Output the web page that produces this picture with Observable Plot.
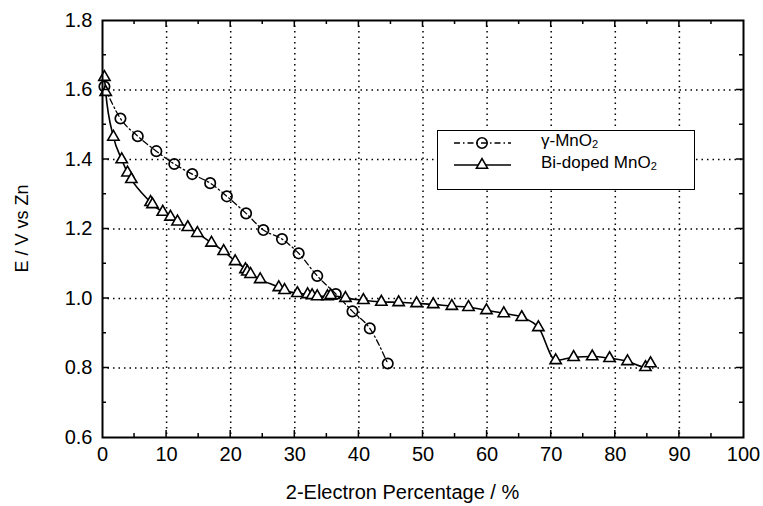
<!DOCTYPE html>
<html>
<head>
<meta charset="utf-8">
<script src="https://cdn.jsdelivr.net/npm/d3@7"></script>
<script src="https://cdn.jsdelivr.net/npm/@observablehq/plot@0.6"></script>
<style>
  html, body { margin: 0; padding: 0; background: white; }
  #chart { width: 763px; height: 506px; position: relative; }
  #legend { position: absolute; left: 437px; top: 130px; width: 256px; height: 58px;
    border: 1.8px solid black; background: white; font-family: 'Liberation Sans', Arial, sans-serif;
    font-size: 17px; color: black; }
  #legend .row { position: absolute; left: 103px; white-space: nowrap; line-height: 17px; }
  #legend sub { font-size: 11px; vertical-align: -2px; line-height: 0; }
  #legend svg { position: absolute; left: 0; top: 0; }
</style>
</head>
<body>
<div id="chart"></div>
<script>
// ---- data ----
const gammaX = [0.3, 2.8, 5.5, 8.4, 11.2, 14.0, 16.8, 19.4, 22.4, 25.1, 28.0, 30.6, 33.5, 36.4, 39.0, 41.7, 44.5];
const gammaY = [1.61, 1.518, 1.467, 1.424, 1.387, 1.358, 1.332, 1.294, 1.245, 1.197, 1.171, 1.130, 1.065, 1.013, 0.963, 0.914, 0.813];

const biX = [0.3, 0.5, 1.7, 3.0, 3.9, 4.5, 7.5, 7.8, 9.4, 10.6, 11.7, 13.3, 14.8, 17.0, 18.9, 20.7, 22.3, 22.6, 23.1, 24.6, 27.5, 28.4, 30.4, 32.0, 32.7, 33.5, 35.1, 35.6, 37.9, 40.7, 43.5, 46.2, 49.0, 51.6, 54.5, 57.1, 59.9, 62.6, 65.4, 68.0, 70.7, 73.5, 76.4, 79.1, 81.9, 84.7, 85.5];
const biY = [1.637, 1.594, 1.465, 1.400, 1.362, 1.343, 1.277, 1.271, 1.249, 1.235, 1.221, 1.205, 1.188, 1.160, 1.136, 1.107, 1.084, 1.077, 1.070, 1.055, 1.032, 1.024, 1.015, 1.012, 1.009, 1.006, 1.006, 1.009, 1.001, 0.995, 0.990, 0.989, 0.986, 0.983, 0.978, 0.975, 0.966, 0.957, 0.946, 0.917, 0.822, 0.831, 0.833, 0.828, 0.819, 0.802, 0.813];

const xTicks = [0, 10, 20, 30, 40, 50, 60, 70, 80, 90, 100];
const yTicks = [0.6, 0.8, 1.0, 1.2, 1.4, 1.6, 1.8];
const seriesNames = ["γ-MnO", "Bi-doped MnO"];
const subscript = "2";
const xLabel = "2-Electron Percentage / %";
const yLabel = "E / V vs Zn";

const gamma = gammaX.map((x, i) => ({x, y: gammaY[i]}));
const bi = biX.map((x, i) => ({x, y: biY[i]}));

const font = "'Liberation Sans', Arial, Helvetica, sans-serif";

const plot = Plot.plot({
  width: 763,
  height: 506,
  marginLeft: 102,
  marginRight: 20,
  marginTop: 20,
  marginBottom: 69,
  x: {domain: [0, 100]},
  y: {domain: [0.6, 1.8]},
  style: {fontFamily: font, background: "white", color: "black", overflow: "visible"},
  marks: [
    Plot.gridX(xTicks.slice(1, -1), {stroke: "black", strokeOpacity: 1, strokeWidth: 1.5, strokeDasharray: "1.5,4"}),
    Plot.gridY(yTicks.slice(1, -1), {stroke: "black", strokeOpacity: 1, strokeWidth: 1.5, strokeDasharray: "1.5,4"}),
    Plot.axisX(xTicks, {tickSize: 0, tickPadding: 9, fontSize: 20, label: null, tickFormat: d => String(d)}),
    Plot.axisY(yTicks, {tickSize: 0, tickPadding: 10, fontSize: 20, label: null, tickFormat: d => d.toFixed(1)}),
    Plot.line(gamma, {x: "x", y: "y", stroke: "black", strokeWidth: 1.3, strokeDasharray: "6,3,1.5,3", curve: "monotone-x"}),
    Plot.dot(gamma, {x: "x", y: "y", symbol: "circle", r: 5.2, stroke: "black", strokeWidth: 1.7, fill: "none"}),
    Plot.line(bi, {x: "x", y: "y", stroke: "black", strokeWidth: 1.6, curve: "monotone-x"}),
    Plot.dot(bi, {x: "x", y: "y", symbol: "triangle", r: 4.2, stroke: "black", strokeWidth: 1.6, fill: "white"}),
    Plot.frame({stroke: "black", strokeWidth: 2})
  ]
});

const chart = document.getElementById("chart");
chart.appendChild(plot);

// ---- decorations: inward ticks, axis titles ----
const svg = d3.select(plot);
const sx = plot.scale("x"), sy = plot.scale("y");
const X = v => sx.apply(v), Y = v => sy.apply(v);
const x0 = X(0), x1 = X(100), y0 = Y(0.6), y1 = Y(1.8);
const g = svg.append("g").attr("stroke", "black").attr("stroke-width", 1.5);
for (let v = 5; v < 100; v += 5) {
  const len = v % 10 === 0 ? 7 : 4;
  g.append("line").attr("x1", X(v)).attr("x2", X(v)).attr("y1", y0).attr("y2", y0 - len);
  g.append("line").attr("x1", X(v)).attr("x2", X(v)).attr("y1", y1).attr("y2", y1 + len);
}
for (let k = 7; k < 18; k++) {
  const v = k / 10;
  const len = k % 2 === 0 ? 7 : 4;
  g.append("line").attr("y1", Y(v)).attr("y2", Y(v)).attr("x1", x0).attr("x2", x0 + len);
  g.append("line").attr("y1", Y(v)).attr("y2", Y(v)).attr("x1", x1).attr("x2", x1 - len);
}

svg.append("text").attr("x", (x0 + x1) / 2 - 20).attr("y", 499)
  .style("text-anchor", "middle").attr("font-family", font).attr("font-size", 20).attr("fill", "black")
  .text(xLabel);
svg.append("text").attr("transform", `translate(28,${(y0 + y1) / 2}) rotate(-90)`)
  .style("text-anchor", "middle").attr("font-family", font).attr("font-size", 18).attr("fill", "black")
  .text(yLabel);

// ---- legend (HTML box over the chart) ----
const legend = d3.select(chart).append("div").attr("id", "legend");
const lsvg = legend.append("svg").attr("width", 100).attr("height", 58);
const rows = [
  {y: 12, dash: "6,3,1.5,3", sym: d3.symbolCircle, size: Math.PI * 27, fill: "none"},
  {y: 34, dash: null, sym: d3.symbolTriangle, size: Math.PI * 17, fill: "white"}
];
rows.forEach((r, i) => {
  lsvg.append("line").attr("x1", 16).attr("x2", 73).attr("y1", r.y).attr("y2", r.y)
    .attr("stroke", "black").attr("stroke-width", 1.5).attr("stroke-dasharray", r.dash);
  lsvg.append("path").attr("d", d3.symbol(r.sym, r.size)())
    .attr("transform", `translate(44,${r.y})`).attr("fill", r.fill).attr("stroke", "black").attr("stroke-width", 1.6);
  const row = legend.append("div").attr("class", "row").style("top", (r.y - 11) + "px");
  row.append("span").text(seriesNames[i]);
  row.append("sub").text(subscript);
});
</script>
</body>
</html>
